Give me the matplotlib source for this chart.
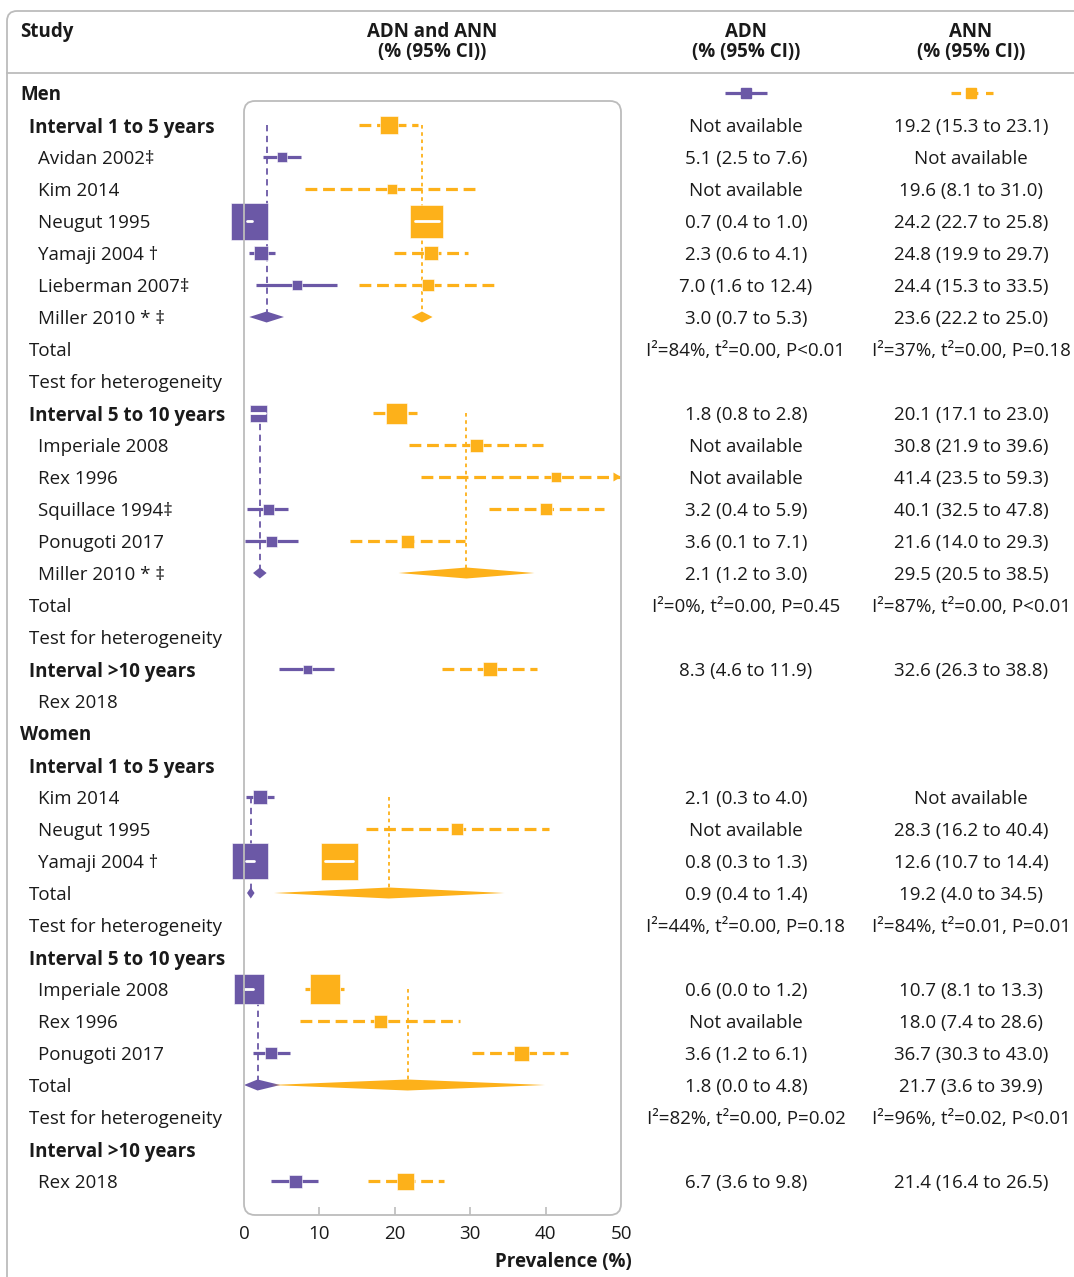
import matplotlib
matplotlib.use('Agg')
import matplotlib.pyplot as plt
import matplotlib.transforms as mtrans
from matplotlib.patches import FancyBboxPatch
from matplotlib.lines import Line2D

plt.rcParams['font.family'] = ['Open Sans', 'DejaVu Sans']

PURPLE = '#6b58a6'
ORANGE = '#fdb11a'
INK = '#1a1a1a'
GREY = '#bcbcbc'
FS = 13.5

# rows (top to bottom): label and its kind (sets indent and weight)
labels = ['Men', 'Interval 1 to 5 years', 'Avidan 2002‡', 'Kim 2014', 'Neugut 1995',
          'Yamaji 2004 †', 'Lieberman 2007‡', 'Miller 2010 * ‡', 'Total',
          'Test for heterogeneity', 'Interval 5 to 10 years', 'Imperiale 2008',
          'Rex 1996', 'Squillace 1994‡', 'Ponugoti 2017', 'Miller 2010 * ‡', 'Total',
          'Test for heterogeneity', 'Interval >10 years', 'Rex 2018', 'Women',
          'Interval 1 to 5 years', 'Kim 2014', 'Neugut 1995', 'Yamaji 2004 †', 'Total',
          'Test for heterogeneity', 'Interval 5 to 10 years', 'Imperiale 2008',
          'Rex 1996', 'Ponugoti 2017', 'Total', 'Test for heterogeneity',
          'Interval >10 years', 'Rex 2018']
label_kind = ['sex', 'int', 'st', 'st', 'st', 'st', 'st', 'st', 'tot', 'tot',
              'int', 'st', 'st', 'st', 'st', 'st', 'tot', 'tot', 'int', 'st',
              'sex', 'int', 'st', 'st', 'st', 'tot', 'tot', 'int', 'st', 'st', 'st',
              'tot', 'tot', 'int', 'st']

# ADN: individual studies
adn_rows = [2, 4, 5, 6, 10, 13, 14, 18, 22, 24, 28, 30, 34]
adn_est = [5.1, 0.7, 2.3, 7.0, 1.8, 3.2, 3.6, 8.3, 2.1, 0.8, 0.6, 3.6, 6.7]
adn_lo = [2.5, 0.4, 0.6, 1.6, 0.8, 0.4, 0.1, 4.6, 0.3, 0.3, 0.0, 1.2, 3.6]
adn_hi = [7.6, 1.0, 4.1, 12.4, 2.8, 5.9, 7.1, 11.9, 4.0, 1.3, 1.2, 6.1, 9.8]
adn_size = [10, 37, 14, 10, 17, 11, 11, 9, 14, 36, 30, 12, 13]
# ADN: pooled estimates
adn_pool_rows = [7, 15, 25, 31]
adn_pool_est = [3.0, 2.1, 0.9, 1.8]
adn_pool_lo = [0.7, 1.2, 0.4, 0.0]
adn_pool_hi = [5.3, 3.0, 1.4, 4.8]

# ANN: individual studies
ann_rows = [1, 3, 4, 5, 6, 10, 11, 12, 13, 14, 18, 23, 24, 28, 29, 30, 34]
ann_est = [19.2, 19.6, 24.2, 24.8, 24.4, 20.1, 30.8, 41.4, 40.1, 21.6, 32.6, 28.3,
           12.6, 10.7, 18.0, 36.7, 21.4]
ann_lo = [15.3, 8.1, 22.7, 19.9, 15.3, 17.1, 21.9, 23.5, 32.5, 14.0, 26.3, 16.2,
          10.7, 8.1, 7.4, 30.3, 16.4]
ann_hi = [23.1, 31.0, 25.8, 29.7, 33.5, 23.0, 39.6, 59.3, 47.8, 29.3, 38.8, 40.4,
          14.4, 13.3, 28.6, 43.0, 26.5]
ann_size = [18, 10, 33, 14, 12, 21, 13, 10, 12, 13, 14, 12, 37, 30, 13, 15, 17]
# ANN: pooled estimates
ann_pool_rows = [7, 15, 25, 31]
ann_pool_est = [23.6, 29.5, 19.2, 21.7]
ann_pool_lo = [22.2, 20.5, 4.0, 3.6]
ann_pool_hi = [25.0, 38.5, 34.5, 39.9]

# first study row of each pooled group (reference lines run down to the pooled row)
pool_start = [1, 10, 22, 28]

# heterogeneity statistics
het_rows = [8, 16, 26, 32]
adn_het = ['I²=84%, t²=0.00, P<0.01', 'I²=0%, t²=0.00, P=0.45',
           'I²=44%, t²=0.00, P=0.18', 'I²=82%, t²=0.00, P=0.02']
ann_het = ['I²=37%, t²=0.00, P=0.18', 'I²=87%, t²=0.00, P<0.01',
           'I²=84%, t²=0.01, P=0.01', 'I²=96%, t²=0.02, P<0.01']

xticks = [0, 10, 20, 30, 40, 50]

W, H = 1074, 1277
ROW0, STEP = 93, 32
fig = plt.figure(figsize=(W / 100, H / 100), dpi=100)
top_px, bot_px, left_px, right_px = 101, 1215, 244, 621
ax = fig.add_axes([left_px / W, 1 - bot_px / H, (right_px - left_px) / W,
                   (bot_px - top_px) / H])
ax.set_xlim(0, 50)
ax.set_ylim((bot_px - ROW0) / STEP, (top_px - ROW0) / STEP)
for s in ax.spines.values():
    s.set_visible(False)
ax.set_yticks([])
ax.set_xticks(xticks)
ax.tick_params(axis='x', direction='in', length=6, width=1.2, color=GREY,
               labelsize=FS, labelcolor=INK, pad=7)
for t in (ax.xaxis.get_major_ticks()[0], ax.xaxis.get_major_ticks()[-1]):
    t.tick1line.set_visible(False)
ax.patch.set_visible(False)

# rounded frames
ident = mtrans.IdentityTransform()
fig.add_artist(FancyBboxPatch((left_px, H - bot_px), right_px - left_px, bot_px - top_px,
                              boxstyle='round,pad=0,rounding_size=11',
                              fc='none', ec=GREY, lw=1.3, transform=ident))
fig.add_artist(FancyBboxPatch((7, -40), 1200, H - 11 + 40,
                              boxstyle='round,pad=0,rounding_size=10',
                              fc='none', ec=GREY, lw=1.3, transform=ident))
fig.add_artist(Line2D([7 / W, 1], [1 - 73 / H, 1 - 73 / H], color=GREY, lw=1.3))

# header
fig.text(20 / W, 1 - 32 / H, 'Study', fontsize=FS, fontweight='bold', color=INK,
         va='center')
for xc, name in [(432, 'ADN and ANN'), (746, 'ADN'), (971, 'ANN')]:
    fig.text(xc / W, 1 - 32 / H, name, fontsize=FS, fontweight='bold', color=INK,
             ha='center', va='center')
    fig.text(xc / W, 1 - 52 / H, '(% (95% CI))', fontsize=FS, fontweight='bold',
             color=INK, ha='center', va='center')

trans = mtrans.blended_transform_factory(fig.transFigure, ax.transData)
indent = {'sex': 20, 'int': 29, 'st': 38, 'tot': 29}
for r, (lab, kind) in enumerate(zip(labels, label_kind)):
    bold = kind in ('sex', 'int')
    ax.text(indent[kind] / W, r, lab, transform=trans, fontsize=FS,
            fontweight='bold' if bold else 'normal', color=INK,
            va='center_baseline', clip_on=False)


def fmt(e, lo, hi):
    return '%.1f (%.1f to %.1f)' % (e, lo, hi)


def col_text(xc, rows, txts):
    for r, s in zip(rows, txts):
        ax.text(xc / W, r, s, transform=trans, ha='center', va='center_baseline',
                fontsize=FS, color=INK, clip_on=False)


adn_all = dict(zip(adn_rows, map(fmt, adn_est, adn_lo, adn_hi)))
adn_all.update(zip(adn_pool_rows, map(fmt, adn_pool_est, adn_pool_lo, adn_pool_hi)))
ann_all = dict(zip(ann_rows, map(fmt, ann_est, ann_lo, ann_hi)))
ann_all.update(zip(ann_pool_rows, map(fmt, ann_pool_est, ann_pool_lo, ann_pool_hi)))
data_rows = sorted(set(adn_all) | set(ann_all))
col_text(746, data_rows, [adn_all.get(r, 'Not available') for r in data_rows])
col_text(971, data_rows, [ann_all.get(r, 'Not available') for r in data_rows])
col_text(746, het_rows, adn_het)
col_text(971, het_rows, ann_het)

LW = 2.3
DASH = (0, (3.7, 1.8))

# legend keys in row 0
ax.plot([725 / W, 767 / W], [0, 0], color=PURPLE, lw=LW, transform=trans,
        clip_on=False, solid_capstyle='butt')
ax.plot([746 / W], [0], 's', ms=7, color=PURPLE, transform=trans, clip_on=False)
ax.plot([951 / W, 993 / W], [0, 0], color=ORANGE, lw=LW, ls=(0, (3.0, 2.4)),
        transform=trans, clip_on=False)
ax.plot([971 / W], [0], 's', ms=7, color=ORANGE, transform=trans, clip_on=False)

px_per_unit = (right_px - left_px) / 50.0
half_h = 5.5 / STEP


def draw_series(rows, est, lo, hi, size, prow, pest, plo, phi, color, ls, vls):
    # pooled reference lines
    for r0, r1, v in zip(pool_start, prow, pest):
        ax.plot([v, v], [r0, r1], color=color, lw=1.3, ls=vls, zorder=1)
    for r, e, l, h, sz in zip(rows, est, lo, hi, size):
        hh = min(h, 50)
        ax.plot([l, hh], [r, r], color=color, lw=LW, ls=ls, zorder=2,
                solid_capstyle='butt', dash_capstyle='butt')
        if h > 50:
            ax.fill([49.0, 50.0, 49.0], [r - 0.14, r, r + 0.14], color=color,
                    lw=0, zorder=2, clip_on=False)
        ax.plot([e], [r], 's', ms=sz * 0.72, color=color, mec='white', mew=0.4,
                zorder=3, clip_on=False)
        if (h - l) * px_per_unit < sz:
            ax.plot([l, h], [r, r], color='white', lw=2.0, zorder=4,
                    solid_capstyle='round', clip_on=False)
    for r, e, l, h in zip(prow, pest, plo, phi):
        ax.fill([l, e, h, e], [r, r - half_h, r, r + half_h], color=color, lw=0,
                zorder=3, clip_on=False)


draw_series(adn_rows, adn_est, adn_lo, adn_hi, adn_size, adn_pool_rows,
            adn_pool_est, adn_pool_lo, adn_pool_hi, PURPLE, '-', (0, (3.5, 2.5)))
draw_series(ann_rows, ann_est, ann_lo, ann_hi, ann_size, ann_pool_rows,
            ann_pool_est, ann_pool_lo, ann_pool_hi, ORANGE, DASH, (0, (2, 2)))

fig.text(632 / W, 1 - 1262 / H, 'Prevalence (%)', fontsize=FS, fontweight='bold',
         color=INK, ha='right', va='center')

fig.savefig('out.png', dpi=100)
